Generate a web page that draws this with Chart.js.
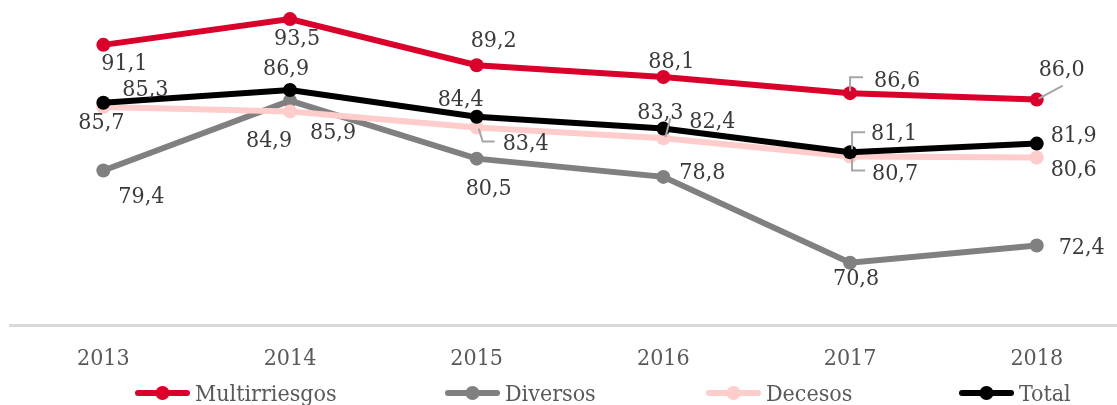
<!DOCTYPE html>
<html>
<head>
<meta charset="utf-8">
<script src="https://cdn.jsdelivr.net/npm/chart.js@4.4.0/dist/chart.umd.min.js"></script>
<style>
  html, body { margin: 0; padding: 0; background: #fff; }
  #wrap { width: 1117px; height: 405px; }
</style>
</head>
<body>
<div id="wrap"><canvas id="chart"></canvas></div>
<script>
// data
const years = ["2013", "2014", "2015", "2016", "2017", "2018"];
const multirriesgos = [91.1, 93.5, 89.2, 88.1, 86.6, 86.0];
const diversos = [79.4, 85.9, 80.5, 78.8, 70.8, 72.4];
const decesos = [85.3, 84.9, 83.4, 82.4, 80.7, 80.6];
const total = [85.7, 86.9, 84.4, 83.3, 81.1, 81.9];

const FONT = "'DejaVu Serif Condensed', 'DejaVu Serif', serif";

// label placement (offset from the point) and leader lines, per series
const labelPos = {
    Multirriesgos: { off: [[21, 17], [7, 18], [17, -26], [8, -17], [47, -14], [25, -32]],
        leaders: { 4: [[0, -2], [0, -16], [13, -16]], 5: [[2, -1], [26, -14]] } },
    Diversos: { off: [[38, 25], [43, 30], [12, 28], [39, -6], [6, 14], [45, 0]], leaders: {} },
    Decesos: { off: [[42, -19], [-21, 28], [49, 15], [49, -18], [45, 16], [37, 10]],
        leaders: { 2: [[2, 1], [6, 14], [18, 14]], 3: [[2, -1], [7, -20]], 4: [[2, 2], [2, 14], [15, 14]] } },
    Total: { off: [[-2, 18], [-4, -23], [-16, -19], [-3, -18], [44, -20], [37, -10]],
        leaders: { 4: [[2, -3], [2, -20], [15, -20]] } }
};

// left edge of each legend entry
const legendX = [135, 445, 706, 959];

function fmt(v) {
    return v.toFixed(1).replace(".", ",");
}

function series(label, values, color, order) {
    return {
        label,
        data: values.map((v, i) => ({ x: i, y: v })),
        borderColor: color,
        backgroundColor: color,
        pointBackgroundColor: color,
        pointBorderColor: color,
        borderWidth: 6,
        pointRadius: 7,
        pointBorderWidth: 0,
        pointHoverRadius: 7,
        tension: 0,
        order
    };
}

const dataLabels = {
    id: "dataLabels",
    afterDatasetsDraw(chart) {
        const ctx = chart.ctx;
        ctx.save();
        chart.data.datasets.forEach((ds, di) => {
            const meta = chart.getDatasetMeta(di);
            const pos = labelPos[ds.label];
            meta.data.forEach((pt, i) => {
                const leader = pos.leaders[i];
                if (leader) {
                    ctx.strokeStyle = "#a6a6a6";
                    ctx.lineWidth = 2;
                    ctx.beginPath();
                    leader.forEach((p, k) => {
                        if (k === 0) ctx.moveTo(pt.x + p[0], pt.y + p[1]);
                        else ctx.lineTo(pt.x + p[0], pt.y + p[1]);
                    });
                    ctx.stroke();
                }
                ctx.fillStyle = "#3a3a3a";
                ctx.font = "23px " + FONT;
                ctx.textAlign = "center";
                ctx.textBaseline = "middle";
                // +2: glyphs sit a bit high with a middle baseline
                ctx.fillText(fmt(ds.data[i].y), pt.x + pos.off[i][0], pt.y + pos.off[i][1] + 2);
            });
        });
        ctx.restore();
    }
};

// legend drawn by hand so it sits where the original one does
const lineLegend = {
    id: "lineLegend",
    afterDraw(chart) {
        const ctx = chart.ctx;
        const y = 393;
        const markW = 55, gap = 5;
        ctx.save();
        ctx.font = "23px " + FONT;
        chart.data.datasets.forEach((ds, i) => {
            const x = legendX[i];
            ctx.strokeStyle = ds.borderColor;
            ctx.lineWidth = 6;
            ctx.lineCap = "round";
            ctx.beginPath();
            ctx.moveTo(x + 3, y);
            ctx.lineTo(x + markW - 3, y);
            ctx.stroke();
            ctx.fillStyle = ds.borderColor;
            ctx.beginPath();
            ctx.arc(x + markW / 2, y, 7, 0, Math.PI * 2);
            ctx.fill();
            ctx.fillStyle = "#595959";
            ctx.textAlign = "left";
            ctx.textBaseline = "middle";
            ctx.fillText(ds.label, x + markW + gap, y + 2);
        });
        ctx.restore();
    }
};

new Chart(document.getElementById("chart"), {
    type: "line",
    data: {
        datasets: [
            series("Multirriesgos", multirriesgos, "#d9002c", 3),
            series("Diversos", diversos, "#808080", 2),
            series("Decesos", decesos, "#ffcccc", 1),
            series("Total", total, "#000000", 0)
        ]
    },
    options: {
        responsive: true,
        maintainAspectRatio: false,
        animation: false,
        layout: { autoPadding: false, padding: { top: 3, left: 10, right: 0, bottom: 0 } },
        plugins: {
            legend: { display: false },
            tooltip: { enabled: false }
        },
        scales: {
            x: {
                type: "linear",
                min: -0.5,
                max: 5.43,
                grid: { display: false },
                border: { display: true, color: "#d9d9d9", width: 3 },
                afterBuildTicks: scale => {
                    scale.ticks = years.map((y, i) => ({ value: i }));
                },
                afterFit: scale => { scale.height = 80; },
                ticks: {
                    padding: 12,
                    maxRotation: 0,
                    autoSkip: false,
                    color: "#595959",
                    font: { family: FONT, size: 23 },
                    callback: v => years[v]
                }
            },
            y: {
                display: false,
                min: 65,
                max: 95
            }
        }
    },
    plugins: [dataLabels, lineLegend]
});
</script>
</body>
</html>
